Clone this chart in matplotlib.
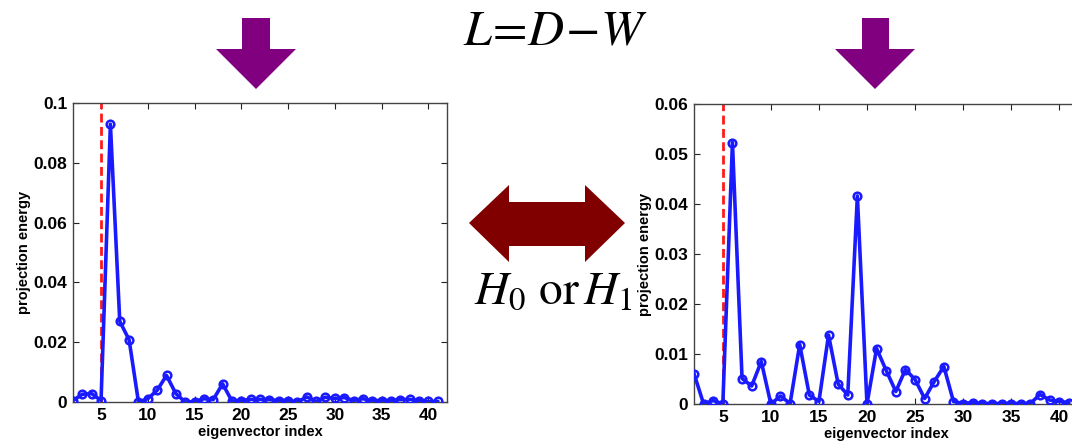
import matplotlib
matplotlib.use("Agg")
import matplotlib.pyplot as plt
from matplotlib.patches import Polygon

# Eigenvector indices and projection energies for the two graphs
idx = list(range(2, 42))
energy_h0 = [0.0005, 0.0026, 0.0028, 0.0005, 0.0929, 0.0270, 0.0208, 0.0000,
             0.0011, 0.0039, 0.0089, 0.0028, 0.0000, 0.0001, 0.0011, 0.0008,
             0.0061, 0.0003, 0.0005, 0.0009, 0.0009, 0.0008, 0.0005, 0.0005,
             0.0000, 0.0017, 0.0002, 0.0016, 0.0012, 0.0015, 0.0005, 0.0011,
             0.0005, 0.0005, 0.0005, 0.0008, 0.0009, 0.0005, 0.0002, 0.0002]
energy_h1 = [0.0061, 0.0000, 0.0007, 0.0000, 0.0523, 0.0051, 0.0036, 0.0085,
             0.0000, 0.0016, 0.0001, 0.0119, 0.0018, 0.0005, 0.0138, 0.0040,
             0.0018, 0.0416, 0.0000, 0.0111, 0.0067, 0.0025, 0.0069, 0.0049,
             0.0011, 0.0045, 0.0075, 0.0005, 0.0001, 0.0003, 0.0001, 0.0001,
             0.0001, 0.0001, 0.0001, 0.0001, 0.0019, 0.0008, 0.0005, 0.0003]
cutoff = 5
xticks = [5, 10, 15, 20, 25, 30, 35, 40]
yticks_h0 = [0, 0.02, 0.04, 0.06, 0.08, 0.1]
ylabels_h0 = ["0", "0.02", "0.04", "0.06", "0.08", "0.1"]
yticks_h1 = [0, 0.01, 0.02, 0.03, 0.04, 0.05, 0.06]
ylabels_h1 = ["0", "0.01", "0.02", "0.03", "0.04", "0.05", "0.06"]

W, H = 1072, 448
fig = plt.figure(figsize=(W / 100, H / 100), dpi=100)
fig.patch.set_facecolor("white")
plt.rcParams["font.family"] = ["Liberation Sans", "DejaVu Sans"]
plt.rcParams["mathtext.fontset"] = "stix"


def px_rect(x0, y0, x1, y1):
    return [x0 / W, 1 - y1 / H, (x1 - x0) / W, (y1 - y0) / H]


def px_poly(points, color):
    pts = [(x / W, 1 - y / H) for x, y in points]
    fig.add_artist(Polygon(pts, closed=True, transform=fig.transFigure,
                           facecolor=color, edgecolor="none"))


def energy_panel(rect, values, yticks, ylabels, ymax):
    ax = fig.add_axes(rect)
    ax.plot(idx, values, "-o", color="#1a1aff", lw=2.6, ms=5.5,
            mfc="none", mew=1.8, zorder=3)
    ax.axvline(cutoff, color="#ff1a1a", lw=2.0, ls=(0, (3.2, 1.6)), zorder=2)
    ax.set_xlim(2, 42)
    ax.set_ylim(0, ymax)
    ax.set_xticks(xticks)
    ax.set_yticks(yticks)
    ax.set_yticklabels(ylabels)
    ax.tick_params(direction="in", length=4, width=0.8, top=True, right=True,
                   labelsize=12.5, pad=4, colors="#222222", labelcolor="black")
    for lab in ax.get_xticklabels() + ax.get_yticklabels():
        lab.set_fontweight("bold")
    for sp in ax.spines.values():
        sp.set_color("#444444")
        sp.set_linewidth(1.0)
    ax.set_xlabel("eigenvector index", fontsize=10.5, fontweight="bold",
                  labelpad=2)
    ax.set_ylabel("projection energy", fontsize=10.5, fontweight="bold",
                  labelpad=2)
    return ax


energy_panel(px_rect(73, 103, 447, 402), energy_h0, yticks_h0, ylabels_h0, 0.1)
energy_panel(px_rect(694, 104, 694 + 40 * 9.61, 404), energy_h1, yticks_h1,
             ylabels_h1, 0.06)

# Downward arrows above each panel
purple = "#800080"
for sx0, sx1, hx0, hx1, tip in [(242, 270, 216, 296, 256),
                                (862, 889, 835, 915, 875)]:
    px_poly([(sx0, 18), (sx1, 18), (sx1, 49), (hx1, 49), (tip, 89),
             (hx0, 49), (sx0, 49)], purple)

# Double-headed arrow between the panels
dark_red = "#800000"
px_poly([(469, 223), (509, 185), (509, 202), (585, 202), (585, 185),
         (625, 223), (585, 262), (585, 246), (509, 246), (509, 262)], dark_red)

fig.text(555 / W, 1 - 32 / H, r"$L\!=\!D\!-\!W$", fontsize=36,
         ha="center", va="center")
fig.text(553 / W, 1 - 292 / H, r"$H_0\ \mathrm{or}\, H_1$", fontsize=34,
         ha="center", va="center")

fig.savefig("out.png", dpi=100, facecolor="white")
